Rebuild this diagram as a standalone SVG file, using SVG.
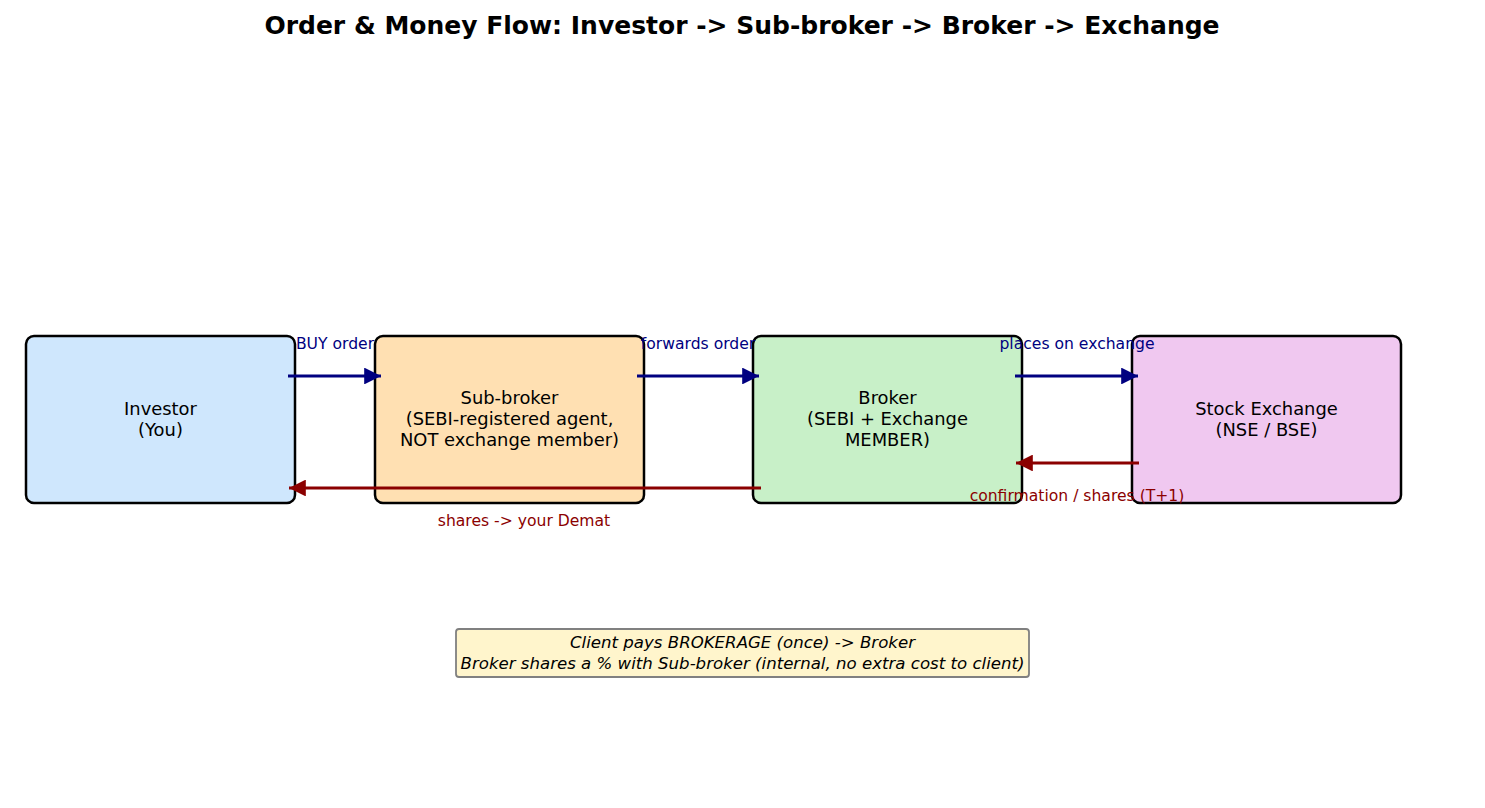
<svg xmlns="http://www.w3.org/2000/svg" width="1485" height="808" viewBox="0 0 1485 808">
<style>
.node{stroke:#000;stroke-width:2.5}
.nt{font-family:"DejaVu Sans",sans-serif;font-size:17.9px;fill:#000;text-anchor:middle}
.lb{font-family:"DejaVu Sans",sans-serif;font-size:15.6px;text-anchor:middle}
.nb{font-family:"DejaVu Sans",sans-serif;font-size:16.6px;text-anchor:middle;font-style:italic;fill:#000}
.blue{stroke:#000080;stroke-width:2.8;fill:none}
.red{stroke:#8b0000;stroke-width:2.8;fill:none}
</style>
<defs>
<marker id="ab" viewBox="0 0 10 10" refX="10" refY="5" markerWidth="6" markerHeight="6" markerUnits="strokeWidth" orient="auto"><path d="M0,0 L10,5 L0,10 z" fill="#000080"/></marker>
<marker id="ar" viewBox="0 0 10 10" refX="10" refY="5" markerWidth="6" markerHeight="6" markerUnits="strokeWidth" orient="auto"><path d="M0,0 L10,5 L0,10 z" fill="#8b0000"/></marker>
</defs>
<rect width="1485" height="808" fill="#fff"/>
<text x="742" y="34" font-family="DejaVu Sans,sans-serif" font-size="25px" font-weight="bold" text-anchor="middle">Order &amp; Money Flow: Investor -&gt; Sub-broker -&gt; Broker -&gt; Exchange</text>
<g id="investor"><rect class="node" x="26" y="336" width="269" height="167" rx="8" fill="#cfe7fd"/><text class="nt" x="160.5" y="415">Investor</text><text class="nt" x="160.5" y="436">(You)</text></g>
<g id="subbroker"><rect class="node" x="375" y="336" width="269" height="167" rx="8" fill="#ffe0b2"/><text class="nt" x="509.5" y="404">Sub-broker</text><text class="nt" x="509.5" y="425">(SEBI-registered agent,</text><text class="nt" x="509.5" y="446">NOT exchange member)</text></g>
<g id="broker"><rect class="node" x="753" y="336" width="269" height="167" rx="8" fill="#c8f0c8"/><text class="nt" x="887.5" y="404">Broker</text><text class="nt" x="887.5" y="425">(SEBI + Exchange</text><text class="nt" x="887.5" y="446">MEMBER)</text></g>
<g id="exchange"><rect class="node" x="1132" y="336" width="269" height="167" rx="8" fill="#f0c8f0"/><text class="nt" x="1266.5" y="415">Stock Exchange</text><text class="nt" x="1266.5" y="436">(NSE / BSE)</text></g>
<g id="connectors">
<path class="blue" d="M288,376 H381" marker-end="url(#ab)"/>
<path class="blue" d="M637,376 H759" marker-end="url(#ab)"/>
<path class="blue" d="M1015,376 H1138" marker-end="url(#ab)"/>
<path class="red" d="M1139,463 H1016" marker-end="url(#ar)"/>
<path class="red" d="M761,488 H289" marker-end="url(#ar)"/>
<text class="lb" x="335" y="349" fill="#000080">BUY order</text>
<text class="lb" x="698" y="349" fill="#000080">forwards order</text>
<text class="lb" x="1077" y="349" fill="#000080">places on exchange</text>
<text class="lb" x="1077" y="501" fill="#8b0000">confirmation / shares (T+1)</text>
<text class="lb" x="524" y="526" fill="#8b0000">shares -&gt; your Demat</text>
</g>
<g id="note"><rect x="456" y="629" width="573" height="48" rx="3" fill="#fff5cc" stroke="#808080" stroke-width="1.8"/>
<text class="nb" x="742.5" y="648">Client pays BROKERAGE (once) -&gt; Broker</text>
<text class="nb" x="742.5" y="669">Broker shares a % with Sub-broker (internal, no extra cost to client)</text></g>
</svg>
